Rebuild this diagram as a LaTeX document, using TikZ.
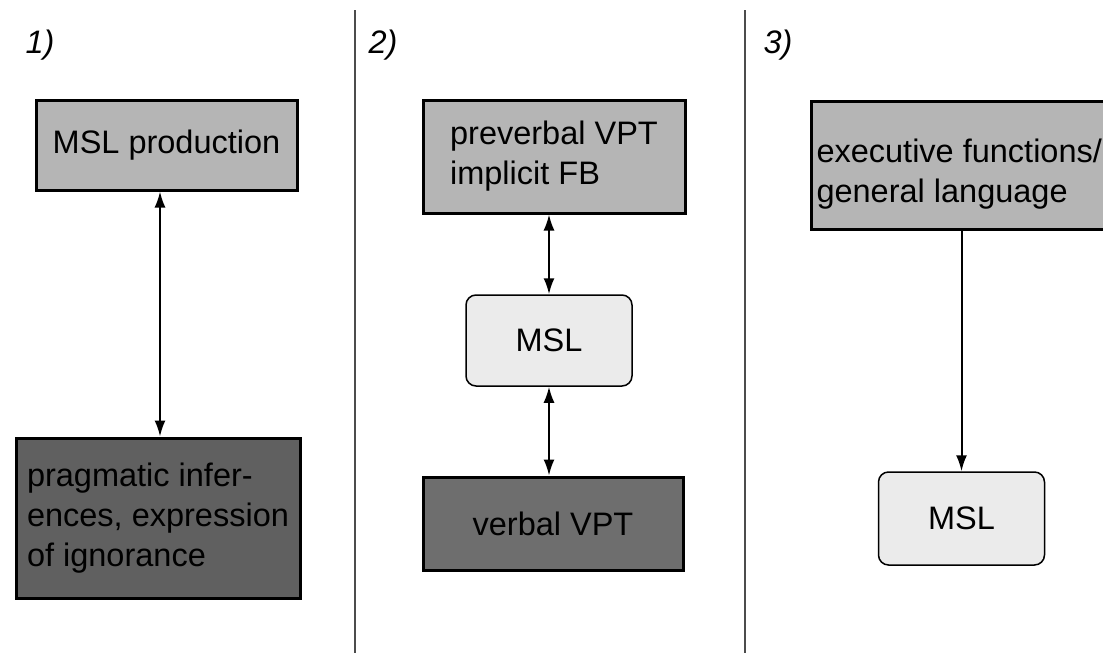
\documentclass[tikz,border=0pt]{standalone}
\usepackage{fontspec}
\setmainfont{Liberation Sans}
\usepackage{xcolor}
\usetikzlibrary{shapes,arrows.meta,positioning}

\definecolor{lightbox}{HTML}{B5B5B5}
\definecolor{darkbox}{HTML}{606060}
\definecolor{midbox}{HTML}{6E6E6E}
\definecolor{mslbox}{HTML}{EBEBEB}

\begin{document}
\begin{tikzpicture}[x=1pt, y=-1pt,
        every node/.style={font=\fontsize{32.5}{40}\selectfont},
        factor/.style={draw, line width=3pt, inner sep=0pt},
        light/.style={factor, fill=lightbox},
        dark/.style={factor, fill=darkbox},
        mid/.style={factor, fill=midbox},
        msl/.style={draw, line width=1.5pt, rounded corners=10pt, fill=mslbox,
                    minimum width=166pt, minimum height=91pt},
        link/.style={line width=2pt},
        divider/.style={line width=1.5pt, draw=black!70},
        panel/.style={font=\fontsize{32.5}{40}\selectfont\itshape},
    ]
        \useasboundingbox (0,0) rectangle (1103,653);

        % panel labels and dividers
        \node[panel] (lab1) at (40, 45)  {1)};
        \node[panel] (lab2) at (383, 45) {2)};
        \node[panel] (lab3) at (778, 45) {3)};
        \draw[divider] (355, 10) -- (355, 653);
        \draw[divider] (745, 10) -- (745, 653);

        % panel 1
        \node[light, minimum width=261pt, minimum height=90pt] (prod) at (166.5, 145) {MSL production};
        \node[dark, minimum width=284pt, minimum height=160pt, align=left] (infer) at (158, 518)
            {pragmatic infer-\\ences, expression\\of ignorance};
        \draw[link, {Latex[length=16pt,width=11pt]}-{Latex[length=16pt,width=11pt]}]
            (infer.north -| 160, 0) -- (prod.south -| 160, 0);

        % panel 2
        \node[light, minimum width=262pt, minimum height=113pt, align=left] (pre) at (554, 156.5)
            {preverbal VPT\\implicit FB};
        \node[msl] (msl2) at (549, 340.5) {MSL};
        \node[mid, minimum width=260pt, minimum height=93pt] (verb) at (553, 523.5) {verbal VPT};
        \draw[link, {Latex[length=16pt,width=11pt]}-{Latex[length=16pt,width=11pt]}]
            (msl2.north) -- (msl2.north |- pre.south);
        \draw[link, {Latex[length=16pt,width=11pt]}-{Latex[length=16pt,width=11pt]}]
            (msl2.south) -- (msl2.south |- verb.north);

        % panel 3
        \node[light, anchor=north west, minimum height=128pt,
              inner xsep=5pt, align=left] (exec) at (810, 100)
            {\rule{0pt}{40pt}executive functions/\\general language};
        \node[msl, minimum height=93pt] (msl3) at (961.5, 518.5) {MSL};
        \draw[link, -{Latex[length=16pt,width=11pt]}] (exec.south -| msl3.north) -- (msl3.north);
    \end{tikzpicture}
\end{document}
